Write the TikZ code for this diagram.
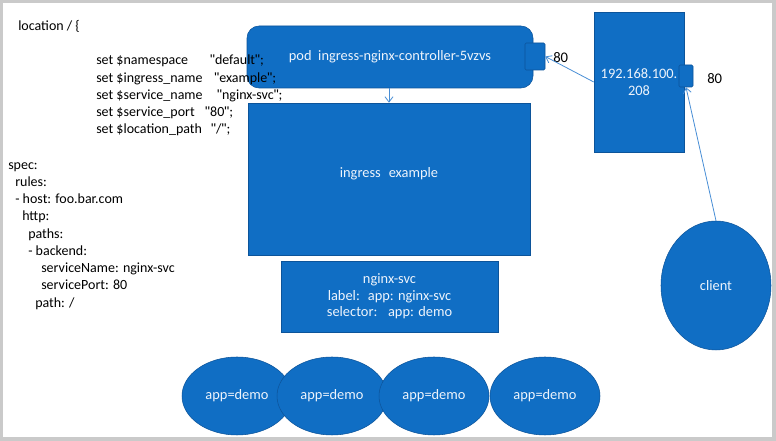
\documentclass[tikz,border=0pt]{standalone}
\usepackage{fontspec}
\setmainfont{Carlito}
\newfontfamily\quotefont{Liberation Sans}
\newcommand{\sq}{{\quotefont"}}
\usetikzlibrary{positioning, arrows.meta, shapes.geometric}
\definecolor{boxblue}{RGB}{16,110,196}
\definecolor{boxedge}{RGB}{12,84,154}
\definecolor{linkblue}{RGB}{72,142,214}
\definecolor{framegray}{RGB}{202,202,202}
\definecolor{labelwhite}{RGB}{238,244,252}
\tikzset{
  % Filled blue boxes
  bluebox/.style={
    draw=boxedge, fill=boxblue, text=labelwhite,
    align=center, inner sep=0pt, font=\fontsize{10.8}{12.4}\selectfont
  },
  podbox/.style={bluebox, rounded corners=9pt},
  portbox/.style={bluebox, rounded corners=1pt},
  % Pods and client
  bluecircle/.style={bluebox, ellipse},
  % Code text on the left
  codetext/.style={
    anchor=north west, align=left, inner sep=0pt,
    font=\fontsize{10.5}{12.94}\selectfont
  },
  portlabel/.style={font=\fontsize{11}{13}\selectfont, inner sep=0pt},
  % Traffic arrows
  link/.style={
    draw=linkblue, -{Straight Barb[length=4pt, width=6pt]}, line width=0.6pt
  },
}

\begin{document}
\begin{tikzpicture}[x=0.75pt, y=-0.75pt]

  %% ── Frame ──
  \useasboundingbox (0,0) rectangle (776,441);
  \fill[framegray] (0,0) rectangle (776,441);
  \fill[white] (3,3) rectangle (772,437);

  %% ── Controller and ingress ──
  \node[podbox, minimum width=214.5pt, minimum height=46.5pt] (pod) at (390,57)
    {pod\hspace*{5pt}ingress-nginx-controller-5vzvs};
  \node[portbox, minimum width=15pt, minimum height=20.25pt] (podport) at (535,56.5) {};
  \node[portlabel, anchor=west] (podportlbl) at (553,58) {80};
  \node[bluebox, minimum width=211.5pt, minimum height=114pt] (ingress) at (389,179)
    {\raisebox{9.5pt}{ingress\hspace*{6pt}example}};

  %% ── Node address ──
  \node[bluebox, minimum width=67.5pt, minimum height=105pt] (ip) at (639,82)
    {192.168.100.\\208};
  \node[portbox, minimum width=10.5pt, minimum height=16.5pt] (ipport) at (686,76) {};
  \node[portlabel, anchor=west] (ipportlbl) at (707,79) {80};

  %% ── Service ──
  \node[bluebox, minimum width=162.75pt, minimum height=53.25pt] (svc) at (389.5,296.5)
    {\raisebox{1.5pt}{\parbox{150pt}{\centering nginx-svc\\label:\hspace*{6pt}app: nginx-svc\\selector:\hspace*{8pt}app: demo}}};

  %% ── Pods ──
  \foreach \px [count=\i] in {237,332,434,545}
    \node[bluecircle, minimum width=82.5pt, minimum height=58.5pt] (app\i) at (\px,396) {app=demo};

  %% ── Client ──
  \node[bluecircle, minimum width=82.5pt, minimum height=96.75pt] (client) at (716,285.5) {client};

  %% ── Traffic ──
  \draw[link] (pod.south -| ingress.north) -- (ingress.north);
  \draw[link] (ip.west) -- (podport.east);
  \draw[link] (client.north) -- (ipport.south);

  %% ── Code (drawn over the pod box) ──
  \node[codetext] (loc) at (18,20) {location / \{};
  \node[codetext] (setvars) at (96,55) {%
    set \$namespace\hspace*{14pt} \sq default\sq;\\
    set \$ingress\_name\hspace*{6.5pt} \sq example\sq;\\
    set \$service\_name\hspace*{8.5pt} \sq nginx-svc\sq;\\
    set \$service\_port\hspace*{5.5pt} \sq 80\sq;\\
    set \$location\_path\hspace*{4.5pt} \sq/\sq;};
  \node[codetext] (spec) at (8,162) {%
    spec:\\
    \hspace*{5.25pt}rules:\\
    \hspace*{5.25pt}- host: foo.bar.com\\
    \hspace*{10.5pt}http:\\
    \hspace*{15pt}paths:\\
    \hspace*{15pt}- backend:\\
    \hspace*{24.75pt}serviceName: nginx-svc\\
    \hspace*{24.75pt}servicePort: 80\\
    \hspace*{20.25pt}path: /};

\end{tikzpicture}
\end{document}
